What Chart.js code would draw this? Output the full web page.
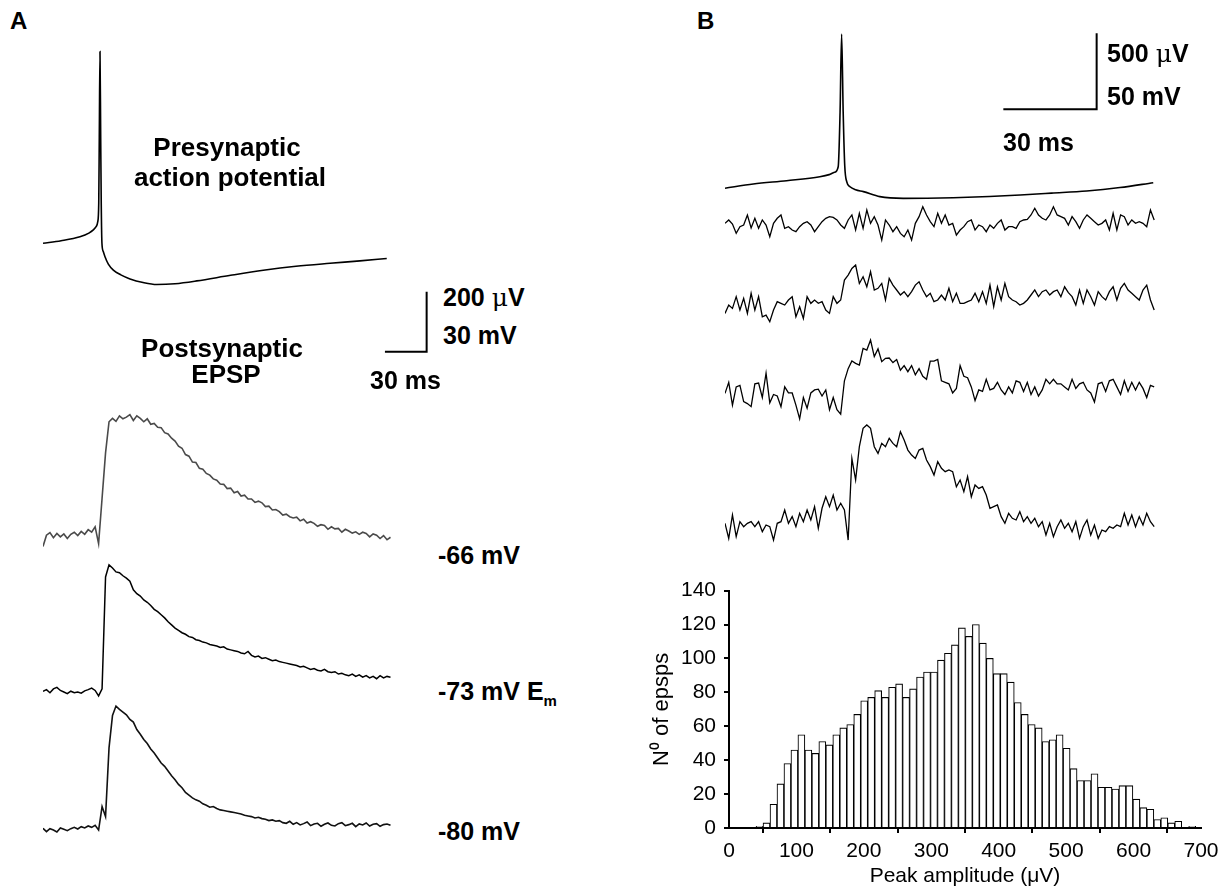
<!DOCTYPE html>
<html><head><meta charset="utf-8">
<script src="https://cdn.jsdelivr.net/npm/chart.js@4.4.0/dist/chart.umd.min.js"></script>
<style>
html,body{margin:0;padding:0;background:#fff;}
body{width:1231px;height:893px;position:relative;overflow:hidden;font-family:"Liberation Sans",Arial,Helvetica,sans-serif;}
canvas{position:absolute;}
.t{position:absolute;font-weight:bold;font-size:25px;color:#000;white-space:nowrap;line-height:1;transform:translate(0,-50%);}
.c{transform:translate(-50%,-50%);}
.mu{font-weight:normal;font-family:"DejaVu Serif","Liberation Serif",serif;}
sub{font-size:15px;vertical-align:-6px;}
</style></head><body>

<canvas id="cA" width="395" height="830" style="left:43px;top:40px"></canvas>
<canvas id="cB" width="440" height="530" style="left:725px;top:25px"></canvas>
<canvas id="cH" width="586" height="323" style="left:645px;top:570px"></canvas>

<div class="t" style="left:10px;top:21px;font-size:24px">A</div>
<div class="t" style="left:697px;top:21px;font-size:24px">B</div>
<div class="t c" style="left:227px;top:147px;font-size:26px">Presynaptic</div>
<div class="t c" style="left:230px;top:177px;font-size:26px">action potential</div>
<div class="t c" style="left:222px;top:348px;font-size:26px">Postsynaptic</div>
<div class="t c" style="left:226px;top:374px;font-size:26px">EPSP</div>
<div class="t" style="left:443px;top:297px">200 <span class="mu">μ</span>V</div>
<div class="t" style="left:443px;top:335px">30 mV</div>
<div class="t" style="left:370px;top:380px">30 ms</div>
<div class="t" style="left:438px;top:555px">-66 mV</div>
<div class="t" style="left:438px;top:693px">-73 mV E<sub>m</sub></div>
<div class="t" style="left:438px;top:831px">-80 mV</div>
<div class="t" style="left:1107px;top:53px">500 <span class="mu">μ</span>V</div>
<div class="t" style="left:1107px;top:96px">50 mV</div>
<div class="t" style="left:1003px;top:142px">30 ms</div>

<script>
// ---------------- DATA ----------------
// Histogram: number of EPSPs per peak-amplitude bin (µV)
const histCounts = [1,3,14,26,38,46,55,46,44,51,49,55,59,61,67,75,77,81,77,83,85,77,82,89,92,92,99,103,108,118,113,120,109,100,91,91,86,74,67,61,59,51,52,55,47,35,28,28,32,24,24,23,25,25,17,12,11,5,6,3,4,0,1];
const binStart = 40.1;   // µV, left edge of first bin
const binWidth = 10.35;  // µV
const histXTicks = [0,100,200,300,400,500,600,700];
const histYTicks = [0,20,40,60,80,100,120,140];

// Panel A presynaptic action potential (time ms, membrane potential mV)
const A_apT = [0,13,26.6,33,36.2,38.2,39.4,40.1,40.5,41,41.5,41.9,42.4,43.3,44.6,47,50.6,56,62.6,72,81.8,95,110.6,135,158.5,182,206.5,228,247.3];
const A_apV = [-70,-68.7,-66.7,-64.9,-63.3,-61.7,-59.2,-50,-16.6,25.9,-16.6,-50,-70,-74,-76.7,-80.4,-83.4,-85.8,-87.8,-89.6,-90.6,-90.2,-88.8,-86,-83.5,-81.5,-80,-78.8,-77.6];
// Panel A postsynaptic EPSPs (µV above baseline), sampled every 2.5 ms
const A_dt = 2.5;
const A_epsp66 = [-25,2,8,-4,6,-2,5,-6,4,9,1,11,4,15,9,22,-18,90,198,272,
 280,273,286,279,283,289,275,286,280,272,279,266,268,259,258,246,243,233,226,214,
 209,194,190,176,175,161,159,149,145,136,133,124,123,113,114,103,106,95,97,88,
 88,80,83,79,70,71,62,63,58,50,52,46,43,45,36,40,31,34,30,23,
 27,25,16,22,17,18,9,16,12,7,10,4,9,6,-2,5,2,-6,1,-9,-3];
const A_epsp73 = [2,6,-2,8,12,4,0,-4,2,-2,0,-3,3,6,10,4,-10,8,295,326,
 318,308,306,298,292,284,262,252,246,236,230,222,212,206,198,190,180,172,164,158,
 152,148,142,140,134,132,128,126,122,120,118,114,116,110,108,106,104,100,98,104,
 94,90,92,86,88,84,80,82,78,76,74,72,70,68,64,66,62,58,60,56,
 54,58,52,50,52,46,48,44,42,46,40,44,38,42,36,40,34,42,36,40,38];
const A_epsp80 = [5,-5,4,0,-6,6,2,-2,4,8,3,10,6,12,8,14,0,70,40,245,
 342,370,360,352,344,330,322,300,286,270,258,242,230,215,200,190,176,162,150,136,
 126,112,104,96,90,86,78,74,68,70,64,60,58,56,54,52,50,48,44,42,
 40,36,38,34,32,28,30,26,28,22,20,26,17,22,15,19,24,13,18,20,
 11,17,21,14,12,19,22,13,16,20,10,18,15,21,12,17,19,11,16,18,14];
// Scale bar A: 30 ms x 30 mV (200 µV)
const A_bar = {t:246, v:-124.2, dt:30, dv:30};

// Panel B presynaptic action potential
const B_apT = [0,9.1,19.8,30.5,33.5,35.2,36.4,37,37.5,38,38.5,39.2,40.2,42,44.5,49.8,57.3,65,73.4,85,94.9,105,116.3,127,137.7];
const B_apV = [-70,-67.2,-65,-62.4,-61,-59.5,-55.8,-20,31.5,-20,-55,-66,-69,-71,-72.2,-75.5,-76.6,-76.5,-76.2,-75.4,-74.4,-73.2,-71.8,-69.5,-66.3];
// Panel B single postsynaptic sweeps (µV), sampled every 1.2 ms
const B_dt = 1.2;
const B_sweep1 = [11,33,6,-55,-11,0,66,-20,44,-22,33,0,-77,11,44,66,-22,-11,-33,-44,
 -11,11,22,0,-44,-11,22,44,55,50,33,0,-22,33,66,-33,77,-22,99,11,
 55,0,-99,33,0,-44,-11,-55,-77,-33,-99,11,55,120,66,22,-11,77,11,66,
 0,11,-66,-33,-11,22,33,-33,0,-11,-44,0,-22,11,33,-33,-11,-11,-22,22,
 33,37,66,110,66,44,33,66,120,66,55,44,0,55,22,-22,33,66,44,22,
 0,11,33,-33,77,-33,66,55,0,33,11,22,11,-11,99,33];
const B_sweep2 = [-44,11,-11,66,-22,55,-44,88,-22,66,-66,-55,-99,-22,33,22,11,44,66,-66,
 0,-77,66,22,44,22,33,-22,-44,66,22,44,175,208,252,274,153,197,131,230,
 110,121,153,44,186,142,110,77,99,66,99,142,164,110,66,88,33,44,77,44,
 121,33,88,22,22,33,44,88,33,99,22,142,0,131,44,153,66,44,33,11,
 22,44,77,110,66,99,110,77,99,110,66,131,92,66,11,110,22,110,66,11,
 99,66,44,99,131,44,121,153,110,88,66,44,110,142,44,-22];
const B_sweep3 = [17,90,-60,60,70,-37,-50,-70,80,85,-10,150,-45,10,0,-70,60,20,20,-60,
 -150,-10,-80,20,40,45,0,40,-90,-10,-90,-120,100,180,230,215,204,313,302,368,
 259,310,226,248,250,220,240,170,200,160,200,140,180,130,110,230,230,240,100,90,
 80,20,50,200,130,120,60,-30,40,30,110,40,50,90,40,10,60,20,100,90,
 30,90,10,60,0,40,110,80,110,80,80,60,40,110,50,80,90,40,20,-40,
 80,90,30,100,110,60,10,100,30,90,40,90,50,-10,70,60];
const B_sweep4 = [11,-88,66,-77,22,-11,11,22,-11,22,-44,0,-11,-99,11,22,99,11,55,-11,
 77,22,99,33,121,-22,110,186,121,197,99,143,99,-99,438,296,515,636,658,636,
 515,471,537,515,570,537,515,614,559,493,460,438,493,504,428,384,329,417,373,351,
 362,351,252,296,219,318,186,263,241,252,197,110,121,132,55,11,77,44,33,88,
 22,55,11,44,-11,22,-66,11,-77,-11,33,-22,11,-44,22,-88,-11,33,-66,0,
 -88,-33,-44,-11,-22,0,-11,77,0,66,-11,55,0,77,22,-11];
// Scale bar B: 30 ms x 50 mV (500 µV)
const B_bar = {t:89.5, v:-18, dt:30, dv:50};

// ---------------- LAYOUT ----------------
const FONT = '"Liberation Sans", Arial, sans-serif';
function fitAxis(val, yPx, pxPerUnit, top, height){
  return {display:false, min: val - (top + height - yPx)/pxPerUnit, max: val + (yPx - top)/pxPerUnit};
}
const xy = (ts, vs) => ts.map((t,i)=>({x:t, y:vs[i]}));
const sampled = (vs, dt) => vs.map((v,i)=>({x:i*dt, y:v}));
const bar = b => [{x:b.t,y:b.v},{x:b.t+b.dt,y:b.v},{x:b.t+b.dt,y:b.v+b.dv}];
function ds(data, axis, color, w, smooth){
  return {data, yAxisID:axis, borderColor:color, borderWidth:w, pointRadius:0, fill:false,
          clip:false, tension: smooth?0.4:0, cubicInterpolationMode: smooth?'monotone':'default'};
}
const base = {responsive:false, animation:false, events:[], layout:{padding:0},
  plugins:{legend:{display:false}, tooltip:{enabled:false}}};

// Panel A traces (canvas top 40, height 830)
const aTop=40, aH=830, aPxMs=1.39;
new Chart(document.getElementById('cA'), {
  type:'line',
  data:{datasets:[
    ds(xy(A_apT, A_apV), 'yAP', '#000', 1.6, true),
    ds(sampled(A_epsp66, A_dt), 'y66', '#4a4a4a', 1.6, false),
    ds(sampled(A_epsp73, A_dt), 'y73', '#000', 1.5, false),
    ds(sampled(A_epsp80, A_dt), 'y80', '#111', 1.6, false),
    ds(bar(A_bar), 'yAP', '#000', 2, false)
  ]},
  options:{...base, scales:{
    x:{type:'linear', display:false, min:0, max:395/aPxMs},
    yAP: fitAxis(-70, 243.3, 2.0, aTop, aH),
    y66: fitAxis(0, 536, 0.42, aTop, aH),
    y73: fitAxis(0, 692, 0.39, aTop, aH),
    y80: fitAxis(0, 830, 0.335, aTop, aH)
  }}
});

// Panel B traces (canvas top 25, height 530)
const bTop=25, bH=530, bPxMs=3.11;
new Chart(document.getElementById('cB'), {
  type:'line',
  data:{datasets:[
    ds(xy(B_apT, B_apV), 'yAP', '#000', 1.6, true),
    ds(sampled(B_sweep1, B_dt), 'y1', '#000', 1.3, false),
    ds(sampled(B_sweep2, B_dt), 'y2', '#000', 1.3, false),
    ds(sampled(B_sweep3, B_dt), 'y3', '#000', 1.3, false),
    ds(sampled(B_sweep4, B_dt), 'y4', '#000', 1.3, false),
    ds(bar(B_bar), 'yAP', '#000', 2, false)
  ]},
  options:{...base, scales:{
    x:{type:'linear', display:false, min:0, max:440/bPxMs},
    yAP: fitAxis(-70, 188.3, 1.52, bTop, bH),
    y1: fitAxis(0, 225, 0.152, bTop, bH),
    y2: fitAxis(0, 306.7, 0.152, bTop, bH),
    y3: fitAxis(0, 396, 0.152, bTop, bH),
    y4: fitAxis(0, 525, 0.152, bTop, bH)
  }}
});

// Histogram
new Chart(document.getElementById('cH'), {
  type:'bar',
  data:{datasets:[{
    data: histCounts.map((c,i)=>({x: binStart + binWidth*(i+0.5), y:c})),
    backgroundColor:'#fff', borderColor:'#000', borderWidth:1.1,
    barPercentage:1, categoryPercentage:1
  }]},
  options:{...base,
    layout:{padding:{left:0, right:30, top:17, bottom:0}},
    scales:{
      x:{type:'linear', min:0, max:700, offset:false,
        afterBuildTicks(s){ s.ticks = histXTicks.map(v=>({value:v})); },
        ticks:{color:'#000', font:{size:21, family:FONT}, padding:6, maxRotation:0, autoSkip:false},
        grid:{drawOnChartArea:false, color:'#000', lineWidth:2, tickLength:5},
        border:{color:'#000', width:2},
        title:{display:true, text:'Peak amplitude (μV)', color:'#000', font:{size:21, family:FONT}, padding:{top:4,bottom:4}},
        afterFit(s){ s.height = 65; }},
      y:{min:0, max:140,
        afterBuildTicks(s){ s.ticks = histYTicks.map(v=>({value:v})); },
        ticks:{color:'#000', font:{size:21, family:FONT}, padding:8},
        grid:{drawOnChartArea:false, color:'#000', lineWidth:2, tickLength:5},
        border:{color:'#000', width:2},
        title:{display:true, text:'N⁰ of epsps', color:'#000', font:{size:22, family:FONT}, padding:{top:4,bottom:4}},
        afterFit(s){ s.width = 84; }}
    }}
});
</script>
</body></html>
